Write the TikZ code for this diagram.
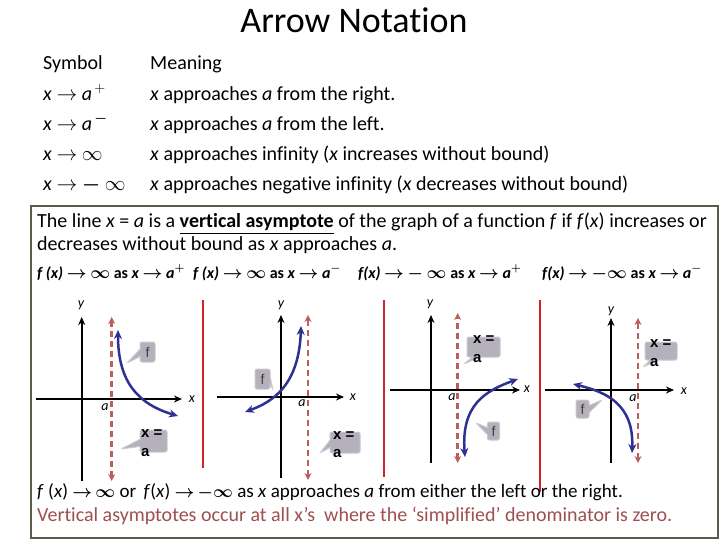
\documentclass[tikz,border=0pt]{standalone}
\usepackage{fontspec}
\usepackage{amsmath}
\setmainfont{Carlito}[Ligatures=NoCommon]
\newfontfamily\arial{Liberation Sans}
\usetikzlibrary{arrows.meta,shapes.callouts}
\definecolor{boxc}{HTML}{5B5B4B}
\definecolor{curvec}{HTML}{2E3192}
\definecolor{dashc}{HTML}{BA5E5E}
\definecolor{sepc}{HTML}{D42027}
\definecolor{callc}{HTML}{B4B0BC}
\definecolor{calld}{HTML}{CCC8D0}
\definecolor{notec}{HTML}{9E4F4F}
\newcommand{\barrow}{{\boldmath$\rightarrow$}}
\newcommand{\binf}{{\boldmath$\infty$}}
\newcommand{\sarrow}{{\fontsize{16}{18}\selectfont\boldmath$\rightarrow$}}
\newcommand{\sinf}{{\fontsize{16}{18}\selectfont\boldmath$\infty$}}
\newcommand{\sminf}{{\fontsize{16}{18}\selectfont\boldmath$-\infty$}}
\begin{document}
\begin{tikzpicture}[x=1pt,y=-1pt,
  txt/.style={anchor=base west, inner sep=0pt, font=\fontsize{20}{24}\selectfont},
  frm/.style={anchor=base west, inner sep=0pt, font=\fontsize{16}{20}\selectfont\bfseries\itshape},
  lbl/.style={inner sep=0pt, font=\fontsize{14}{16}\selectfont\itshape},
  axisline/.style={line width=2pt, -{Stealth[length=8pt,width=7pt]}},
  asym/.style={dashc, line width=2.5pt, dash pattern=on 6pt off 4pt, {Stealth[length=7pt,width=7pt]}-{Stealth[length=7pt,width=7pt]}},
  curve/.style={curvec, line width=2.5pt, {Stealth[length=9pt,width=8pt]}-{Stealth[length=9pt,width=8pt]}},
  sep/.style={sepc, line width=2.5pt},
  callbox/.style={rectangle callout, fill=callc, draw=calld, line width=1pt, rounded corners=2pt, inner sep=0pt},
  ftxt/.style={inner sep=0pt, font=\arial\fontsize{14}{16}\selectfont, text=black!75},
  xatxt/.style={anchor=base west, inner sep=0pt, font=\arial\bfseries\fontsize{15}{17}\selectfont}]
\useasboundingbox (0,0) rectangle (720,540);
% title
\node[anchor=base, inner sep=0pt, font=\fontsize{36}{42}\selectfont] (title) at (354,33) {Arrow Notation};
% table
\node[txt] (h1) at (43,70) {Symbol};
\node[txt] (h2) at (150,70) {Meaning};
\node[txt] (s1) at (43,100.5) {\textit{x} $\rightarrow$ \textit{a}$^{\,+}$};
\node[txt] (m1) at (150,100.5) {\textit{x} approaches \textit{a} from the right.};
\node[txt] (s2) at (43,130.5) {\textit{x} $\rightarrow$ \textit{a}$^{\,\boldsymbol{-}}$};
\node[txt] (m2) at (150,130.5) {\textit{x} approaches \textit{a} from the left.};
\node[txt] (s3) at (43,160.5) {\textit{x} $\rightarrow$ $\infty$};
\node[txt] (m3) at (150,160.5) {\textit{x} approaches infinity (\textit{x} increases without bound)};
\node[txt] (s4) at (43,190.5) {\textit{x} $\rightarrow$ $\boldsymbol{-}$ $\infty$};
\node[txt] (m4) at (150,190.5) {\textit{x} approaches negative infinity (\textit{x} decreases without bound)};
% box
\draw[boxc, line width=2pt] (31,206) rectangle (718,538);
\node[txt] (b1) at (37,227) {The line \textit{x} = \textit{a} is a \underline{\textbf{vertical asymptote}} of the graph of a function \textit{f} if \textit{f}(\textit{x}) increases or};
\node[txt] (b2) at (37,251) {decreases without bound as \textit{x} approaches \textit{a}.};
\node[frm] (f1) at (37,278) {f (x) \barrow\ \binf\ \upshape as \itshape x \barrow\ a$^{\boldsymbol{+}}$};
\node[frm] (f2) at (193,278) {f (x) \barrow\ \binf\ \upshape as \itshape x \barrow\ a$^{\boldsymbol{-}}$};
\node[frm] (f3) at (358,278) {f(x) \barrow\ {\boldmath$-$} \binf\ \upshape as \itshape x \barrow\ a$^{\boldsymbol{+}}$};
\node[frm] (f4) at (542,278) {f(x) \barrow\ {\boldmath$-\infty$} \upshape as \itshape x \barrow\ a$^{\boldsymbol{-}}$};
% separators
\draw[sep] (203,300) -- (203,468);
\draw[sep] (384,300) -- (384,477);
\draw[sep] (540,300) -- (540,492);
% ---- panel 1
\coordinate (p1yb) at (81.7,481); \coordinate (p1yt) at (81.7,317);
\coordinate (p1xl) at (36,399); \coordinate (p1xr) at (182,399);
\draw[axisline] (p1yb) -- (p1yt);
\draw[axisline] (p1xl) -- (p1xr);
\coordinate (p1ab) at (111.7,481); \coordinate (p1at) at (111.7,317);
\draw[asym] (p1ab) -- (p1at);
\draw[curve] (118,330) .. controls (118,382) and (138,404) .. (178,416);
\node[lbl] (p1y) at (81,305) {y};
\node[lbl] (p1x) at (192,399) {x};
\node[lbl] (p1a) at (105,407) {a};
\node[callbox, minimum width=15pt, minimum height=20pt, callout absolute pointer={(127,363)}] (c1f) at (147.5,352) {};
\node[ftxt] (c1ft) at (c1f) {f};
\node[callbox, minimum width=27pt, minimum height=22pt, callout absolute pointer={(121,449)}] (c1a) at (153.5,441) {};
\node[xatxt] (c1at1) at (141,437) {x =};
\node[xatxt] (c1at2) at (141,456) {a};
% ---- panel 2
\coordinate (p2yb) at (281,478); \coordinate (p2yt) at (281,315);
\coordinate (p2xl) at (217,397); \coordinate (p2xr) at (344,397);
\draw[axisline] (p2yb) -- (p2yt);
\draw[axisline] (p2xl) -- (p2xr);
\coordinate (p2ab) at (308,480); \coordinate (p2at) at (308,315);
\draw[asym] (p2ab) -- (p2at);
\draw[curve] (245,412) .. controls (272,402) and (299,386) .. (301,326);
\node[lbl] (p2y) at (281,305) {y};
\node[lbl] (p2x) at (353,397) {x};
\node[lbl] (p2a) at (302,403) {a};
\node[callbox, minimum width=15pt, minimum height=20pt, callout absolute pointer={(273,390)}] (c2f) at (262.5,379) {};
\node[ftxt] (c2ft) at (c2f) {f};
\node[callbox, minimum width=30pt, minimum height=21pt, callout absolute pointer={(320,453)}] (c2a) at (345,442.5) {};
\node[xatxt] (c2at1) at (333,439) {x =};
\node[xatxt] (c2at2) at (333,457) {a};
% ---- panel 3
\coordinate (p3yb) at (431,463); \coordinate (p3yt) at (431,315);
\coordinate (p3xl) at (390,390); \coordinate (p3xr) at (520,390);
\draw[axisline] (p3yb) -- (p3yt);
\draw[axisline] (p3xl) -- (p3xr);
\coordinate (p3ab) at (457.7,463); \coordinate (p3at) at (457.7,313);
\draw[asym] (p3ab) -- (p3at);
\draw[curve] (465,457) .. controls (461,405) and (485,391) .. (518,379);
\node[lbl] (p3y) at (430,304) {y};
\node[lbl] (p3x) at (527,389) {x};
\node[lbl] (p3a) at (452,397) {a};
\node[callbox, minimum width=33pt, minimum height=20pt, callout absolute pointer={(464,364)}] (c3a) at (483.5,347) {};
\node[xatxt] (c3at1) at (473,343) {x =};
\node[xatxt] (c3at2) at (473,362) {a};
\node[callbox, minimum width=12pt, minimum height=18pt, callout absolute pointer={(476,423)}] (c3f) at (493.5,431) {};
\node[ftxt] (c3ft) at (c3f) {f};
% ---- panel 4
\coordinate (p4yb) at (611,463); \coordinate (p4yt) at (611,318);
\coordinate (p4xl) at (545,390); \coordinate (p4xr) at (674,390);
\draw[axisline] (p4yb) -- (p4yt);
\draw[axisline] (p4xl) -- (p4xr);
\coordinate (p4ab) at (638,463); \coordinate (p4at) at (638,318);
\draw[asym] (p4ab) -- (p4at);
\draw[curve] (573,384) .. controls (606,392) and (634,404) .. (632,453);
\node[lbl] (p4y) at (611,311) {y};
\node[lbl] (p4x) at (684,391) {x};
\node[lbl] (p4a) at (633,398) {a};
\node[callbox, minimum width=32pt, minimum height=18pt, callout absolute pointer={(643,367)}] (c4a) at (661,351) {};
\node[xatxt] (c4at1) at (650,347) {x =};
\node[xatxt] (c4at2) at (650,366) {a};
\node[callbox, minimum width=13pt, minimum height=18pt, callout absolute pointer={(602,400)}] (c4f) at (582.5,409) {};
\node[ftxt] (c4ft) at (c4f) {f};
% bottom notes
\node[txt, font=\fontsize{19}{23}\selectfont] (n1) at (37,497) {\textit{f} (\textit{x}) \sarrow\,\sinf\ or \,\textit{f}(\textit{x}) \sarrow\,\sminf\ as \textit{x} approaches \textit{a} from either the left or the right.};
\node[txt, text=notec] (n2) at (37,521) {Vertical asymptotes occur at all x’s \ where the ‘simplified’ denominator is zero.};
\end{tikzpicture}
\end{document}
